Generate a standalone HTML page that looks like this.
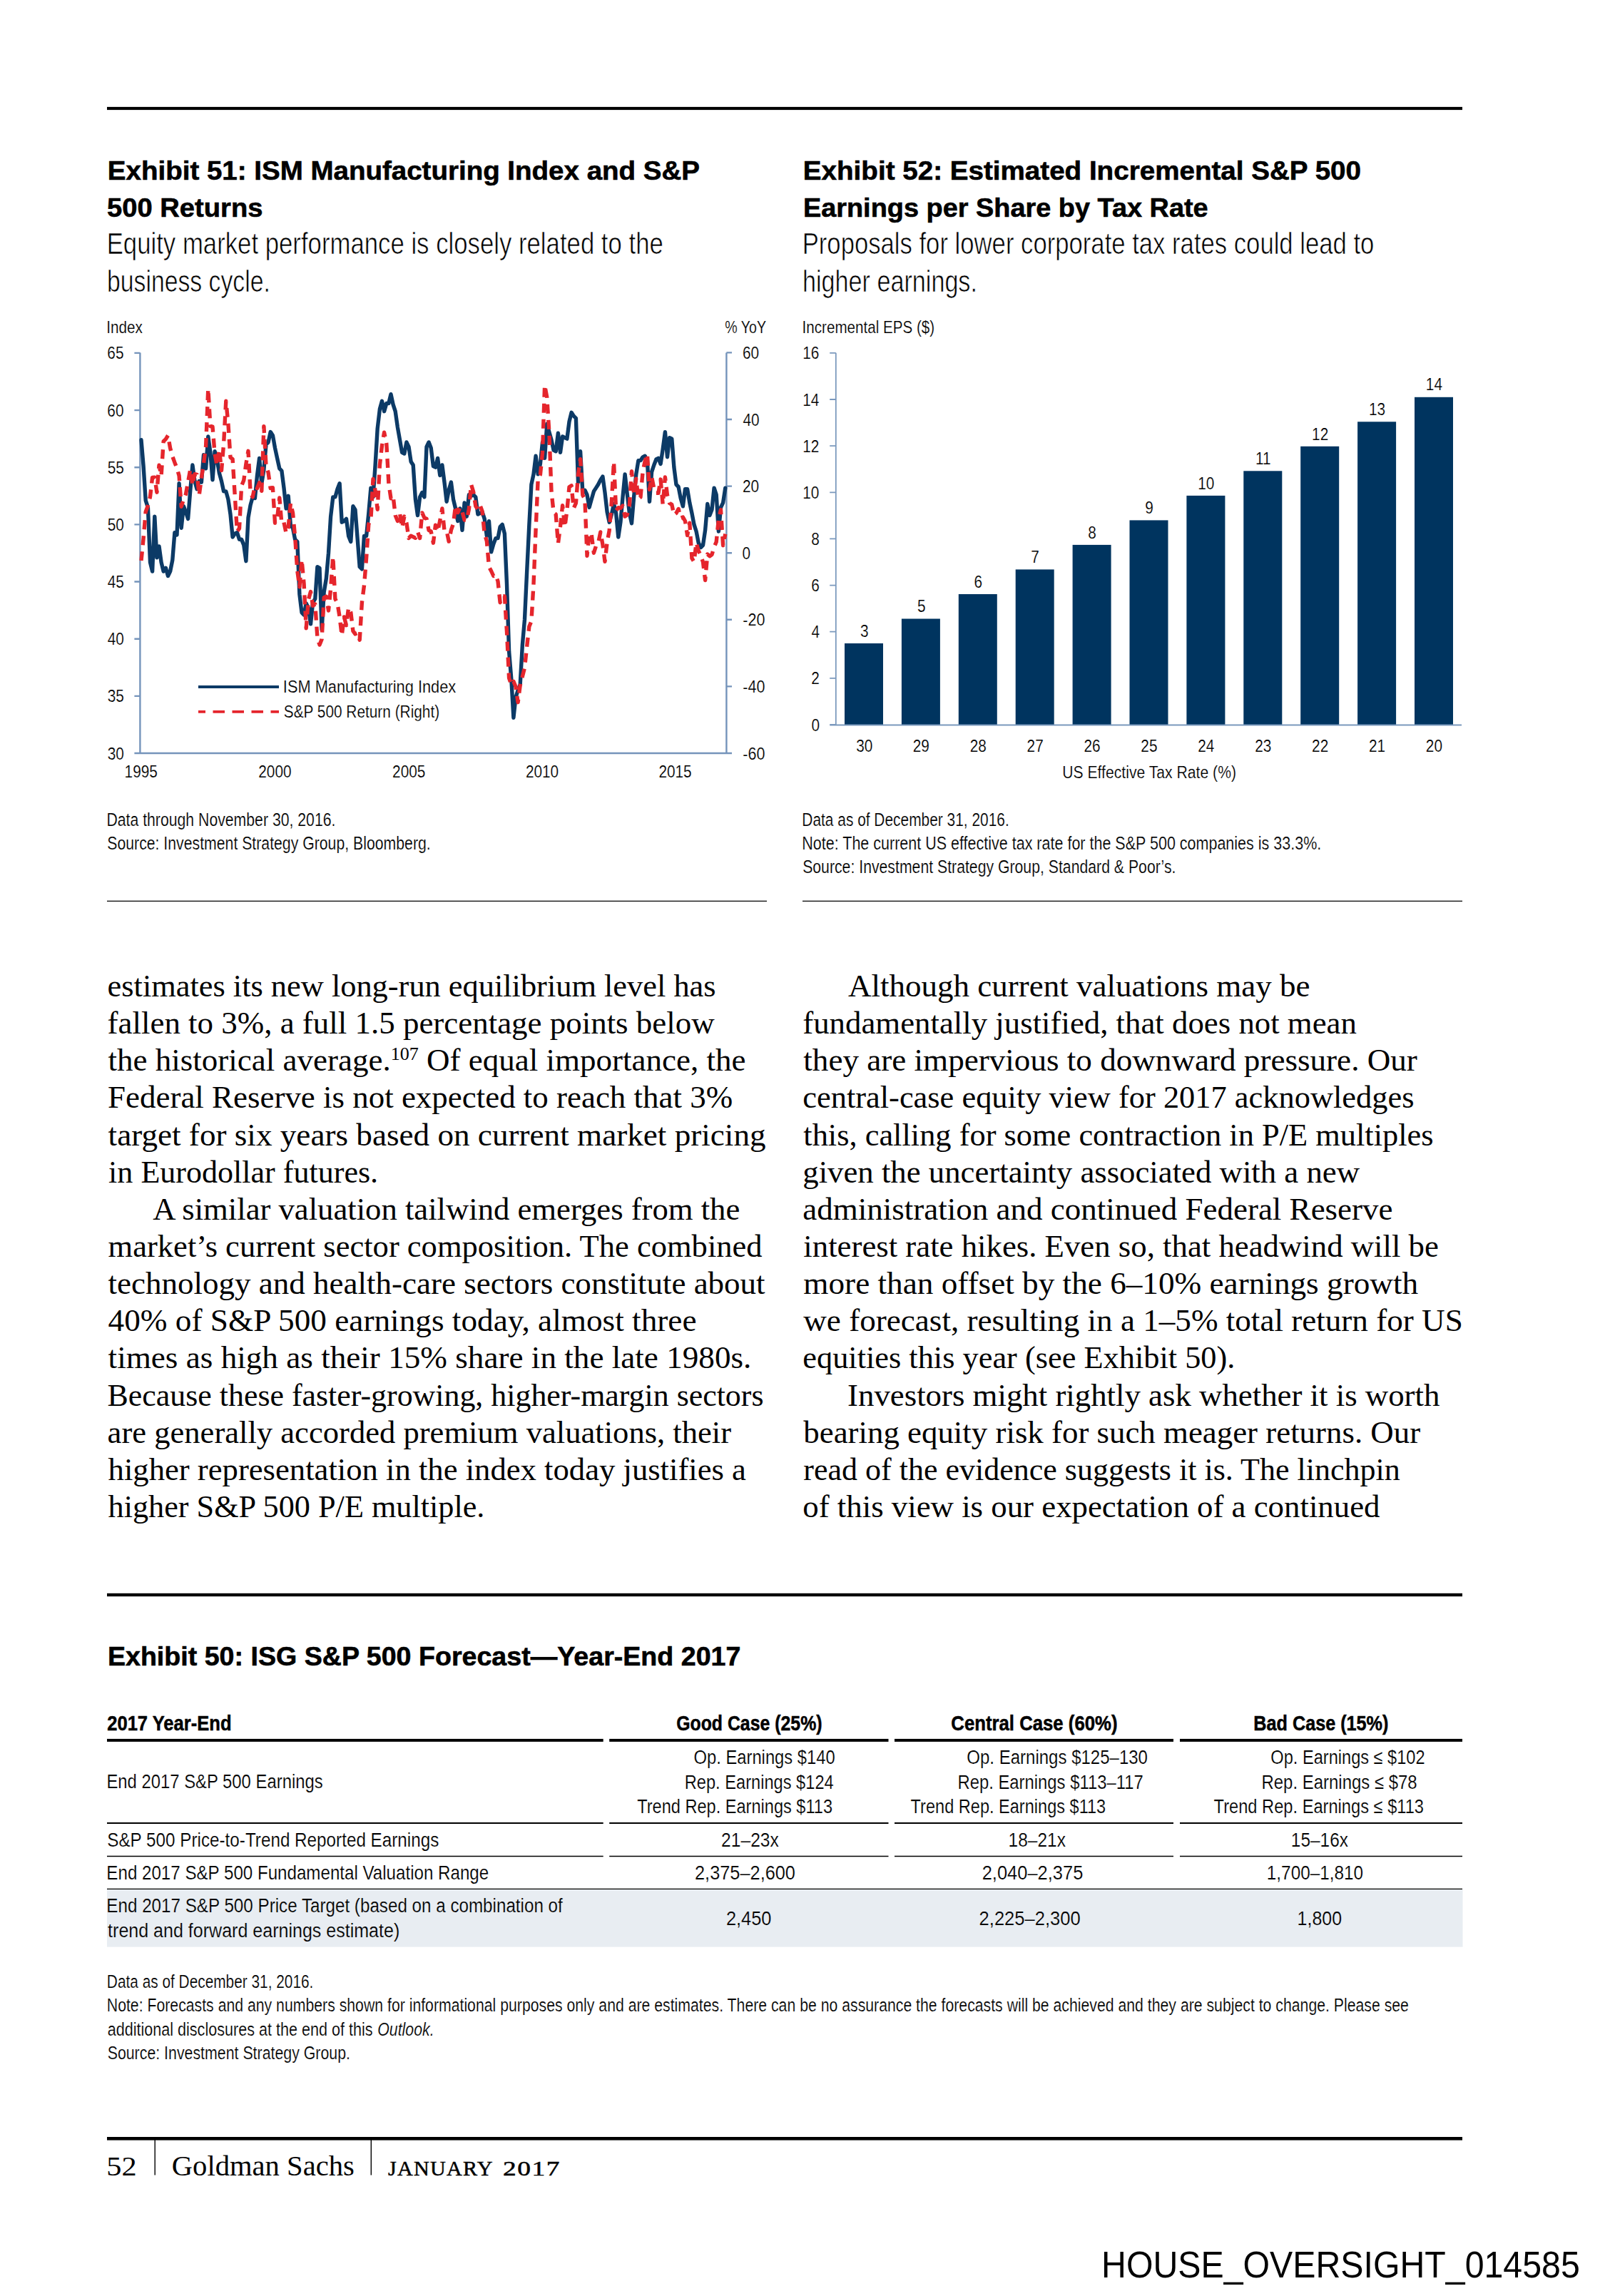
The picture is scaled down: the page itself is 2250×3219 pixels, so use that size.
<!DOCTYPE html>
<html lang="en"><head><meta charset="utf-8"><title>Outlook - page 52</title>
<style>
html,body{margin:0;padding:0;background:#fff}
svg{display:block}
text{white-space:pre}
.s,.sb,.si{font-family:"Liberation Sans", Arial, Helvetica, sans-serif}
.r{font-family:"Liberation Serif", "Times New Roman", Times, serif}
.sb{font-weight:bold}
.si{font-style:italic}
</style></head>
<body>
<svg width="2250" height="3219" viewBox="0 0 2250 3219">
<g fill="#000">
<rect x="150" y="149.9" width="1900" height="4.2"/>
<rect x="150" y="2233.8" width="1900" height="4.4"/>
<rect x="150" y="2996" width="1900" height="4.6"/>
<rect x="150" y="2437.9" width="695.7" height="4"/>
<rect x="854.2" y="2437.9" width="391.3" height="4"/>
<rect x="1254" y="2437.9" width="391.0" height="4"/>
<rect x="1654" y="2437.9" width="396.0" height="4"/>
</g>
<rect x="150" y="2649" width="1900.5" height="80.6" fill="#e8edf2"/>
<g stroke="#000" stroke-width="1.3" fill="none">
<path d="M150 1263.4H1075M1125 1263.4H2050"/>
<path d="M150 2602.5H845.7M854.2 2602.5H1245.5M1254 2602.5H1645M1654 2602.5H2050M150 2648.4H2050"/>
<path d="M150 2556H845.7M854.2 2556H1245.5M1254 2556H1645M1654 2556H2050" stroke-width="2"/>
<path d="M217.2 2998V3049.5M520.3 2998V3049.5" stroke-width="1.4"/>
</g>
<rect x="1184.0" y="902.0" width="54" height="114.0" fill="#00345f"/>
<rect x="1263.9" y="867.5" width="54" height="148.5" fill="#00345f"/>
<rect x="1343.8" y="833.0" width="54" height="183.0" fill="#00345f"/>
<rect x="1423.7" y="798.4" width="54" height="217.6" fill="#00345f"/>
<rect x="1503.6" y="763.9" width="54" height="252.1" fill="#00345f"/>
<rect x="1583.5" y="729.4" width="54" height="286.6" fill="#00345f"/>
<rect x="1663.4" y="694.9" width="54" height="321.1" fill="#00345f"/>
<rect x="1743.3" y="660.3" width="54" height="355.7" fill="#00345f"/>
<rect x="1823.2" y="625.8" width="54" height="390.2" fill="#00345f"/>
<rect x="1903.1" y="591.3" width="54" height="424.7" fill="#00345f"/>
<rect x="1983.0" y="556.8" width="54" height="459.2" fill="#00345f"/>
<path d="M1171.8 494.8V1016.5M1163.2 1016.5H2049M1163.2 1016.0H1171.8M1163.2 950.9H1171.8M1163.2 885.7H1171.8M1163.2 820.6H1171.8M1163.2 755.4H1171.8M1163.2 690.3H1171.8M1163.2 625.2H1171.8M1163.2 560.0H1171.8M1163.2 494.9H1171.8" stroke="#7b99bd" stroke-width="1.8" fill="none"/>
<g stroke="#7594bb" stroke-width="2.4" fill="none">
<path d="M196.4 494.5V1056M1018.4 494.5V1056M188.4 1056H1026"/>
<path d="M188.4 975.9H196.4M188.4 895.7H196.4M188.4 815.5H196.4M188.4 735.4H196.4M188.4 655.2H196.4M188.4 575.1H196.4M188.4 494.9H196.4M1018.4 962.4H1026M1018.4 868.8H1026M1018.4 775.2H1026M1018.4 681.6H1026M1018.4 588.0H1026M1018.4 494.4H1026"/></g>
<polyline points="198.0,616.8 201.1,653.6 204.2,701.7 207.4,711.4 210.5,788.3 213.6,801.1 216.8,724.2 219.9,781.9 223.0,765.9 226.1,788.3 229.2,801.1 232.4,796.3 235.5,807.5 238.6,801.1 241.8,785.1 244.9,746.6 248.0,749.8 251.1,677.7 254.2,740.2 257.4,709.8 260.5,717.8 263.6,727.4 266.8,687.3 269.9,652.0 273.0,674.5 276.1,685.7 279.2,674.5 282.4,676.1 285.5,637.6 288.6,656.9 291.8,612.0 294.9,634.4 298.0,672.9 301.1,632.8 304.2,644.0 307.4,663.3 310.5,674.5 313.6,688.9 316.8,688.9 319.9,700.1 323.0,721.0 326.1,753.0 329.2,748.2 332.4,746.6 335.5,756.2 338.6,756.2 341.8,764.3 344.9,786.7 348.0,725.8 351.1,708.1 354.2,696.9 357.4,698.5 360.5,666.5 363.6,642.4 366.8,677.7 369.9,658.5 373.0,623.2 376.1,620.0 379.2,605.6 382.4,610.4 385.5,628.0 388.6,642.4 391.8,656.9 394.9,660.1 398.0,684.1 401.1,713.0 404.2,695.3 407.4,737.0 410.5,740.2 413.6,756.2 416.8,759.4 419.9,833.2 423.0,858.8 426.1,862.0 429.2,846.0 432.4,852.4 435.5,874.9 438.6,844.4 441.8,839.6 444.9,794.7 448.0,796.3 451.1,882.9 454.2,830.0 457.4,810.7 460.5,775.5 463.6,724.2 466.8,696.9 469.9,696.9 473.0,685.7 476.1,677.7 479.2,732.2 482.4,730.6 485.5,727.4 488.6,751.4 491.8,759.4 494.9,709.8 498.0,714.6 501.1,754.6 504.2,794.7 507.4,797.9 510.5,751.4 513.6,751.4 516.8,719.4 519.9,684.1 523.0,696.9 526.1,652.0 529.2,600.7 532.4,573.5 535.5,562.3 538.6,576.7 541.8,565.5 544.9,565.5 548.0,552.7 551.1,567.1 554.2,576.7 557.4,599.1 560.5,616.8 563.6,634.4 566.8,636.0 569.9,620.0 573.0,626.4 576.1,647.2 579.2,652.0 582.4,700.1 585.5,722.6 588.6,696.9 591.8,690.5 594.9,696.9 598.0,626.4 601.1,620.0 604.2,628.0 607.4,653.6 610.5,655.2 613.6,642.4 616.8,666.5 619.9,652.0 623.0,676.1 626.1,703.3 629.2,687.3 632.4,676.1 635.5,700.1 638.6,713.0 641.8,730.6 644.9,713.0 648.0,743.4 651.1,704.9 654.2,724.2 657.4,693.7 660.5,695.3 663.6,693.7 666.8,696.9 669.9,721.0 673.0,719.4 676.1,717.8 679.2,727.4 682.4,751.4 685.5,730.6 688.6,773.9 691.8,762.7 694.9,754.6 698.0,754.6 701.1,738.6 704.2,735.4 707.4,748.2 710.5,818.8 713.6,913.3 716.8,951.8 719.9,1006.3 723.0,977.5 726.1,967.8 729.2,959.8 732.4,903.7 735.5,868.4 738.6,802.7 741.8,737.0 744.9,679.3 748.0,664.9 751.1,639.2 754.2,664.9 757.4,650.4 760.5,620.0 763.6,642.4 766.8,594.3 769.9,605.6 773.0,616.8 776.1,631.2 779.2,632.8 782.4,607.2 785.5,634.4 788.6,612.0 791.8,613.6 794.9,615.2 798.0,591.1 801.1,578.3 804.2,583.1 807.4,586.3 810.5,676.1 813.6,632.8 816.8,688.9 819.9,687.3 823.0,693.7 826.1,711.4 829.2,700.1 832.4,688.9 835.5,684.1 838.6,679.3 841.8,672.9 844.9,668.1 848.0,690.5 851.1,717.8 854.2,732.2 857.4,721.0 860.5,706.5 863.6,719.4 866.8,753.0 869.9,732.2 873.0,696.9 876.1,664.9 879.2,692.1 882.4,719.4 885.5,733.8 888.6,696.9 891.8,664.9 894.9,645.6 898.0,645.6 901.1,640.8 904.2,639.2 907.4,645.6 910.5,703.3 913.6,661.7 916.8,652.0 919.9,644.0 923.0,642.4 926.1,650.4 929.2,629.6 932.4,605.6 935.5,640.8 938.6,613.6 941.8,615.2 944.9,655.2 948.0,679.3 951.1,682.5 954.2,698.5 957.4,709.8 960.5,685.7 963.6,685.7 966.8,704.9 969.9,719.4 973.0,735.4 976.1,745.0 979.2,761.0 982.4,767.5 985.5,764.3 988.6,743.4 991.8,706.5 994.9,722.6 998.0,714.6 1001.1,684.1 1004.2,693.7 1007.4,745.0 1010.5,711.4 1013.6,704.9 1016.8,684.1" fill="none" stroke="#0c3a66" stroke-width="5.4" stroke-linejoin="round" stroke-linecap="round"/>
<polyline points="198.0,786.1 201.1,754.9 204.2,717.5 207.4,709.0 210.5,696.4 213.6,669.4 216.8,669.2 219.9,690.2 223.0,652.1 226.1,667.1 229.2,618.7 232.4,615.6 235.5,610.5 238.6,628.2 241.8,639.9 244.9,648.4 248.0,656.1 251.1,667.1 254.2,710.3 257.4,700.1 260.5,692.8 263.6,675.6 266.8,658.0 269.9,680.4 273.0,664.7 276.1,665.3 279.2,694.3 282.4,669.9 285.5,649.9 288.6,625.5 291.8,545.3 294.9,597.6 298.0,598.2 301.1,636.3 304.2,652.6 307.4,630.1 310.5,659.6 313.6,622.2 316.8,562.2 319.9,593.9 323.0,641.4 326.1,643.7 329.2,693.6 332.4,745.1 335.5,740.8 338.6,681.0 341.8,673.2 344.9,650.4 348.0,632.3 351.1,690.9 354.2,696.8 357.4,681.1 360.5,684.7 363.6,676.6 366.8,688.3 369.9,597.7 373.0,652.9 376.1,662.6 379.2,684.6 382.4,683.8 385.5,733.2 388.6,726.8 391.8,698.0 394.9,734.1 398.0,732.5 401.1,747.3 404.2,739.2 407.4,705.3 410.5,719.1 413.6,752.4 416.8,800.1 419.9,822.7 423.0,784.7 426.1,818.5 429.2,880.8 432.4,840.6 435.5,829.5 438.6,849.3 441.8,847.0 444.9,893.6 448.0,904.1 451.1,896.2 454.2,837.7 457.4,836.2 460.5,856.0 463.6,825.5 466.8,780.4 469.9,839.8 473.0,845.5 476.1,864.9 479.2,891.0 482.4,865.0 485.5,876.7 488.6,852.0 491.8,858.6 494.9,884.6 498.0,888.9 501.1,887.5 504.2,897.2 507.4,844.7 510.5,820.6 513.6,782.4 516.8,734.8 519.9,728.2 523.0,671.5 526.1,688.0 529.2,714.3 532.4,651.7 535.5,624.6 538.6,606.2 541.8,621.8 544.9,678.0 548.0,698.9 551.1,695.3 554.2,722.5 557.4,730.5 560.5,719.5 563.6,739.8 566.8,724.1 569.9,733.1 573.0,754.5 576.1,751.2 579.2,752.6 582.4,754.3 585.5,745.6 588.6,754.5 591.8,718.9 594.9,726.0 598.0,727.2 601.1,743.4 604.2,745.0 607.4,761.2 610.5,736.1 613.6,745.2 616.8,729.9 619.9,713.0 623.0,744.3 626.1,744.2 629.2,759.1 632.4,743.2 635.5,734.4 638.6,708.9 641.8,718.6 644.9,711.5 648.0,717.4 651.1,729.1 654.2,729.7 657.4,713.9 660.5,679.2 663.6,689.3 666.8,709.7 669.9,714.1 673.0,708.3 676.1,717.0 679.2,748.3 682.4,758.7 685.5,794.6 688.6,800.5 691.8,807.5 694.9,805.8 698.0,815.0 701.1,844.7 704.2,835.6 707.4,835.9 710.5,885.7 713.6,950.6 716.8,960.0 719.9,955.3 723.0,962.8 726.1,984.7 729.2,960.9 732.4,948.4 735.5,936.0 738.6,907.1 741.8,878.6 744.9,870.9 748.0,819.0 751.1,742.6 754.2,671.1 757.4,665.4 760.5,634.7 763.6,540.0 766.8,557.3 769.9,606.9 773.0,688.5 776.1,718.5 779.2,721.1 782.4,762.0 785.5,738.0 788.6,708.8 791.8,738.9 794.9,715.4 798.0,682.7 801.1,680.8 804.2,712.6 807.4,705.4 810.5,665.3 813.6,643.6 816.8,694.2 819.9,699.6 823.0,779.2 826.1,747.5 829.2,748.9 832.4,775.2 835.5,765.6 838.6,761.6 841.8,746.0 844.9,763.4 848.0,787.3 851.1,760.5 854.2,743.7 857.4,703.1 860.5,647.3 863.6,715.9 866.8,711.7 869.9,712.5 873.0,709.0 876.1,724.1 879.2,721.8 882.4,708.4 885.5,660.8 888.6,691.3 891.8,671.2 894.9,699.9 898.0,697.0 901.1,661.1 904.2,646.4 907.4,636.7 910.5,686.3 913.6,668.7 916.8,684.8 919.9,691.3 923.0,691.2 926.1,672.1 929.2,707.2 932.4,669.0 935.5,694.3 938.6,705.5 941.8,707.4 944.9,721.9 948.0,719.4 951.1,713.5 954.2,726.3 957.4,725.1 960.5,730.5 963.6,750.6 966.8,733.2 969.9,782.5 973.0,787.6 976.1,761.0 979.2,772.3 982.4,778.6 985.5,788.0 988.6,813.5 991.8,777.0 994.9,779.7 998.0,777.5 1001.1,767.1 1004.2,759.7 1007.4,728.0 1010.5,714.7 1013.6,764.7 1016.8,748.6" fill="none" stroke="#e5252c" stroke-width="5.4" stroke-linejoin="round" stroke-dasharray="13 9"/>
<path d="M278 963H391" stroke="#0c3a66" stroke-width="4" fill="none"/>
<path d="M278 997.8H391" stroke="#e5252c" stroke-width="3.8" stroke-dasharray="16.5 10.5" stroke-dashoffset="6.5" fill="none"/>
<text class="sb" transform="translate(150.85 252.00) scale(1.0272 1)" font-size="37.5" stroke="#000" stroke-width="0.6">Exhibit 51: ISM Manufacturing Index and S&amp;P</text>
<text class="sb" transform="translate(150.08 303.90) scale(1.0173 1)" font-size="37.5" stroke="#000" stroke-width="0.6">500 Returns</text>
<text class="sb" transform="translate(1125.84 252.00) scale(1.0294 1)" font-size="37.5" stroke="#000" stroke-width="0.6">Exhibit 52: Estimated Incremental S&amp;P 500</text>
<text class="sb" transform="translate(1125.88 303.90) scale(1.0106 1)" font-size="37.5" stroke="#000" stroke-width="0.6">Earnings per Share by Tax Rate</text>
<text class="sb" transform="translate(150.89 2334.90) scale(1.0029 1)" font-size="37.5" stroke="#000" stroke-width="0.6">Exhibit 50: ISG S&amp;P 500 Forecast—Year-End 2017</text>
<text class="s" transform="translate(149.68 356.10) scale(0.8083 1)" font-size="43" stroke="#fff" stroke-width="0.7">Equity market performance is closely related to the</text>
<text class="s" transform="translate(150.03 408.60) scale(0.7850 1)" font-size="43" stroke="#fff" stroke-width="0.7">business cycle.</text>
<text class="s" transform="translate(1124.68 356.10) scale(0.8067 1)" font-size="43" stroke="#fff" stroke-width="0.7">Proposals for lower corporate tax rates could lead to</text>
<text class="s" transform="translate(1125.01 408.60) scale(0.7943 1)" font-size="43" stroke="#fff" stroke-width="0.7">higher earnings.</text>
<text class="s" transform="translate(149.21 467.20) scale(0.8443 1)" font-size="24.5" stroke="#fff" stroke-width="0.2">Index</text>
<text class="s" transform="translate(1016.30 467.20) scale(0.8007 1)" font-size="24.5" stroke="#fff" stroke-width="0.2">% YoY</text>
<text class="s" transform="translate(150.78 1064.50) scale(0.8500 1)" font-size="24.5" stroke="#fff" stroke-width="0.2">30</text>
<text class="s" transform="translate(150.78 984.35) scale(0.8500 1)" font-size="24.5" stroke="#fff" stroke-width="0.2">35</text>
<text class="s" transform="translate(150.78 904.20) scale(0.8500 1)" font-size="24.5" stroke="#fff" stroke-width="0.2">40</text>
<text class="s" transform="translate(150.78 824.05) scale(0.8500 1)" font-size="24.5" stroke="#fff" stroke-width="0.2">45</text>
<text class="s" transform="translate(150.78 743.90) scale(0.8500 1)" font-size="24.5" stroke="#fff" stroke-width="0.2">50</text>
<text class="s" transform="translate(150.78 663.75) scale(0.8500 1)" font-size="24.5" stroke="#fff" stroke-width="0.2">55</text>
<text class="s" transform="translate(150.36 583.60) scale(0.8500 1)" font-size="24.5" stroke="#fff" stroke-width="0.2">60</text>
<text class="s" transform="translate(150.36 503.45) scale(0.8500 1)" font-size="24.5" stroke="#fff" stroke-width="0.2">65</text>
<text class="s" transform="translate(1040.96 502.90) scale(0.8500 1)" font-size="24.5" stroke="#fff" stroke-width="0.2">60</text>
<text class="s" transform="translate(1041.38 596.50) scale(0.8500 1)" font-size="24.5" stroke="#fff" stroke-width="0.2">40</text>
<text class="s" transform="translate(1040.96 690.10) scale(0.8500 1)" font-size="24.5" stroke="#fff" stroke-width="0.2">20</text>
<text class="s" transform="translate(1040.57 783.70) scale(0.8500 1)" font-size="24.5" stroke="#fff" stroke-width="0.2">0</text>
<text class="s" transform="translate(1041.25 877.30) scale(0.8800 1)" font-size="24.5" stroke="#fff" stroke-width="0.2">-20</text>
<text class="s" transform="translate(1041.25 970.90) scale(0.8800 1)" font-size="24.5" stroke="#fff" stroke-width="0.2">-40</text>
<text class="s" transform="translate(1041.25 1064.50) scale(0.8800 1)" font-size="24.5" stroke="#fff" stroke-width="0.2">-60</text>
<text class="s" transform="translate(174.58 1089.70) scale(0.8500 1)" font-size="24.5" stroke="#fff" stroke-width="0.2">1995</text>
<text class="s" transform="translate(362.28 1089.70) scale(0.8500 1)" font-size="24.5" stroke="#fff" stroke-width="0.2">2000</text>
<text class="s" transform="translate(550.08 1089.70) scale(0.8500 1)" font-size="24.5" stroke="#fff" stroke-width="0.2">2005</text>
<text class="s" transform="translate(736.88 1089.70) scale(0.8500 1)" font-size="24.5" stroke="#fff" stroke-width="0.2">2010</text>
<text class="s" transform="translate(923.38 1089.70) scale(0.8500 1)" font-size="24.5" stroke="#fff" stroke-width="0.2">2015</text>
<text class="s" transform="translate(396.82 971.20) scale(0.8904 1)" font-size="24.5" stroke="#fff" stroke-width="0.2">ISM Manufacturing Index</text>
<text class="s" transform="translate(397.75 1006.20) scale(0.8503 1)" font-size="24.5" stroke="#fff" stroke-width="0.2">S&amp;P 500 Return (Right)</text>
<text class="s" transform="translate(1124.62 466.90) scale(0.8412 1)" font-size="24.5" stroke="#fff" stroke-width="0.2">Incremental EPS ($)</text>
<text class="s" transform="translate(1125.26 698.80) scale(0.8500 1)" font-size="24.5" stroke="#fff" stroke-width="0.2">10</text>
<text class="s" transform="translate(1125.26 633.66) scale(0.8500 1)" font-size="24.5" stroke="#fff" stroke-width="0.2">12</text>
<text class="s" transform="translate(1125.26 568.52) scale(0.8500 1)" font-size="24.5" stroke="#fff" stroke-width="0.2">14</text>
<text class="s" transform="translate(1125.26 503.38) scale(0.8500 1)" font-size="24.5" stroke="#fff" stroke-width="0.2">16</text>
<text class="s" transform="translate(1137.57 1024.50) scale(0.8500 1)" font-size="24.5" stroke="#fff" stroke-width="0.2">0</text>
<text class="s" transform="translate(1137.15 959.36) scale(0.8500 1)" font-size="24.5" stroke="#fff" stroke-width="0.2">2</text>
<text class="s" transform="translate(1137.57 894.22) scale(0.8500 1)" font-size="24.5" stroke="#fff" stroke-width="0.2">4</text>
<text class="s" transform="translate(1137.15 829.08) scale(0.8500 1)" font-size="24.5" stroke="#fff" stroke-width="0.2">6</text>
<text class="s" transform="translate(1137.15 763.94) scale(0.8500 1)" font-size="24.5" stroke="#fff" stroke-width="0.2">8</text>
<text class="s" transform="translate(1206.07 892.71) scale(0.8500 1)" font-size="24.5" stroke="#fff" stroke-width="0.2">3</text>
<text class="s" transform="translate(1200.28 1054.40) scale(0.8500 1)" font-size="24.5" stroke="#fff" stroke-width="0.2">30</text>
<text class="s" transform="translate(1285.97 858.18) scale(0.8500 1)" font-size="24.5" stroke="#fff" stroke-width="0.2">5</text>
<text class="s" transform="translate(1279.76 1054.40) scale(0.8500 1)" font-size="24.5" stroke="#fff" stroke-width="0.2">29</text>
<text class="s" transform="translate(1365.45 823.66) scale(0.8500 1)" font-size="24.5" stroke="#fff" stroke-width="0.2">6</text>
<text class="s" transform="translate(1359.66 1054.40) scale(0.8500 1)" font-size="24.5" stroke="#fff" stroke-width="0.2">28</text>
<text class="s" transform="translate(1445.35 789.13) scale(0.8500 1)" font-size="24.5" stroke="#fff" stroke-width="0.2">7</text>
<text class="s" transform="translate(1439.56 1054.40) scale(0.8500 1)" font-size="24.5" stroke="#fff" stroke-width="0.2">27</text>
<text class="s" transform="translate(1525.25 754.61) scale(0.8500 1)" font-size="24.5" stroke="#fff" stroke-width="0.2">8</text>
<text class="s" transform="translate(1519.46 1054.40) scale(0.8500 1)" font-size="24.5" stroke="#fff" stroke-width="0.2">26</text>
<text class="s" transform="translate(1605.15 720.08) scale(0.8500 1)" font-size="24.5" stroke="#fff" stroke-width="0.2">9</text>
<text class="s" transform="translate(1599.36 1054.40) scale(0.8500 1)" font-size="24.5" stroke="#fff" stroke-width="0.2">25</text>
<text class="s" transform="translate(1679.26 685.56) scale(0.8500 1)" font-size="24.5" stroke="#fff" stroke-width="0.2">10</text>
<text class="s" transform="translate(1679.26 1054.40) scale(0.8500 1)" font-size="24.5" stroke="#fff" stroke-width="0.2">24</text>
<text class="s" transform="translate(1759.93 651.04) scale(0.8500 1)" font-size="24.5" stroke="#fff" stroke-width="0.2">11</text>
<text class="s" transform="translate(1759.16 1054.40) scale(0.8500 1)" font-size="24.5" stroke="#fff" stroke-width="0.2">23</text>
<text class="s" transform="translate(1839.06 616.51) scale(0.8500 1)" font-size="24.5" stroke="#fff" stroke-width="0.2">12</text>
<text class="s" transform="translate(1839.06 1054.40) scale(0.8500 1)" font-size="24.5" stroke="#fff" stroke-width="0.2">22</text>
<text class="s" transform="translate(1918.96 581.99) scale(0.8500 1)" font-size="24.5" stroke="#fff" stroke-width="0.2">13</text>
<text class="s" transform="translate(1918.96 1054.40) scale(0.8500 1)" font-size="24.5" stroke="#fff" stroke-width="0.2">21</text>
<text class="s" transform="translate(1998.86 547.46) scale(0.8500 1)" font-size="24.5" stroke="#fff" stroke-width="0.2">14</text>
<text class="s" transform="translate(1998.86 1054.40) scale(0.8500 1)" font-size="24.5" stroke="#fff" stroke-width="0.2">20</text>
<text class="s" transform="translate(1489.24 1091.00) scale(0.8642 1)" font-size="24.5" stroke="#fff" stroke-width="0.2">US Effective Tax Rate (%)</text>
<text class="s" transform="translate(149.40 1158.00) scale(0.8496 1)" font-size="25" stroke="#fff" stroke-width="0.2">Data through November 30, 2016.</text>
<text class="s" transform="translate(150.25 1190.90) scale(0.8505 1)" font-size="25" stroke="#fff" stroke-width="0.2">Source: Investment Strategy Group, Bloomberg.</text>
<text class="s" transform="translate(1124.33 1158.00) scale(0.8362 1)" font-size="25" stroke="#fff" stroke-width="0.2">Data as of December 31, 2016.</text>
<text class="s" transform="translate(1124.28 1190.90) scale(0.8605 1)" font-size="25" stroke="#fff" stroke-width="0.2">Note: The current US effective tax rate for the S&amp;P 500 companies is 33.3%.</text>
<text class="s" transform="translate(1125.15 1223.70) scale(0.8498 1)" font-size="25" stroke="#fff" stroke-width="0.2">Source: Investment Strategy Group, Standard &amp; Poor’s.</text>
<text class="s" transform="translate(149.83 2786.90) scale(0.8341 1)" font-size="25" stroke="#fff" stroke-width="0.2">Data as of December 31, 2016.</text>
<text class="s" transform="translate(149.80 2820.20) scale(0.8503 1)" font-size="25" stroke="#fff" stroke-width="0.2">Note: Forecasts and any numbers shown for informational purposes only and are estimates. There can be no assurance the forecasts will be achieved and they are subject to change. Please see</text>
<text class="s" transform="translate(150.64 2853.80) scale(0.8637 1)" font-size="25" stroke="#fff" stroke-width="0.2">additional disclosures at the end of this</text>
<text class="si" transform="translate(529.25 2853.80) scale(0.8524 1)" font-size="25" stroke="#fff" stroke-width="0.2">Outlook.</text>
<text class="s" transform="translate(150.65 2887.20) scale(0.8538 1)" font-size="25" stroke="#fff" stroke-width="0.2">Source: Investment Strategy Group.</text>
<text class="r" transform="translate(150.59 1397.00) scale(1.0089 1)" font-size="44">estimates its new long-run equilibrium level has</text>
<text class="r" transform="translate(150.58 1449.14) scale(1.0215 1)" font-size="44">fallen to 3%, a full 1.5 percentage points below</text>
<text class="r" transform="translate(151.08 1553.42) scale(1.0216 1)" font-size="44">Federal Reserve is not expected to reach that 3%</text>
<text class="r" transform="translate(151.60 1605.56) scale(1.0263 1)" font-size="44">target for six years based on current market pricing</text>
<text class="r" transform="translate(152.10 1657.70) scale(1.0017 1)" font-size="44">in Eurodollar futures.</text>
<text class="r" transform="translate(214.30 1709.84) scale(1.0158 1)" font-size="44">A similar valuation tailwind emerges from the</text>
<text class="r" transform="translate(151.60 1761.98) scale(1.0126 1)" font-size="44">market’s current sector composition. The combined</text>
<text class="r" transform="translate(151.60 1814.12) scale(1.0231 1)" font-size="44">technology and health-care sectors constitute about</text>
<text class="r" transform="translate(151.60 1866.26) scale(1.0288 1)" font-size="44">40% of S&amp;P 500 earnings today, almost three</text>
<text class="r" transform="translate(151.60 1918.40) scale(1.0267 1)" font-size="44">times as high as their 15% share in the late 1980s.</text>
<text class="r" transform="translate(150.60 1970.54) scale(0.9976 1)" font-size="44">Because these faster-growing, higher-margin sectors</text>
<text class="r" transform="translate(150.59 2022.68) scale(1.0144 1)" font-size="44">are generally accorded premium valuations, their</text>
<text class="r" transform="translate(151.60 2074.82) scale(1.0154 1)" font-size="44">higher representation in the index today justifies a</text>
<text class="r" transform="translate(151.60 2126.96) scale(1.0050 1)" font-size="44">higher S&amp;P 500 P/E multiple.</text>
<text class="r" transform="translate(1189.10 1397.00) scale(1.0229 1)" font-size="44">Although current valuations may be</text>
<text class="r" transform="translate(1125.28 1449.14) scale(1.0187 1)" font-size="44">fundamentally justified, that does not mean</text>
<text class="r" transform="translate(1126.30 1501.28) scale(1.0256 1)" font-size="44">they are impervious to downward pressure. Our</text>
<text class="r" transform="translate(1125.29 1553.42) scale(1.0098 1)" font-size="44">central-case equity view for 2017 acknowledges</text>
<text class="r" transform="translate(1126.30 1605.56) scale(1.0097 1)" font-size="44">this, calling for some contraction in P/E multiples</text>
<text class="r" transform="translate(1125.28 1657.70) scale(1.0180 1)" font-size="44">given the uncertainty associated with a new</text>
<text class="r" transform="translate(1125.28 1709.84) scale(1.0229 1)" font-size="44">administration and continued Federal Reserve</text>
<text class="r" transform="translate(1126.30 1761.98) scale(1.0183 1)" font-size="44">interest rate hikes. Even so, that headwind will be</text>
<text class="r" transform="translate(1126.30 1814.12) scale(1.0277 1)" font-size="44">more than offset by the 6–10% earnings growth</text>
<text class="r" transform="translate(1126.30 1866.26) scale(1.0256 1)" font-size="44">we forecast, resulting in a 1–5% total return for US</text>
<text class="r" transform="translate(1125.29 1918.40) scale(1.0086 1)" font-size="44">equities this year (see Exhibit 50).</text>
<text class="r" transform="translate(1188.08 1970.54) scale(1.0189 1)" font-size="44">Investors might rightly ask whether it is worth</text>
<text class="r" transform="translate(1126.30 2022.68) scale(1.0200 1)" font-size="44">bearing equity risk for such meager returns. Our</text>
<text class="r" transform="translate(1126.30 2074.82) scale(1.0004 1)" font-size="44">read of the evidence suggests it is. The linchpin</text>
<text class="r" transform="translate(1125.28 2126.96) scale(1.0194 1)" font-size="44">of this view is our expectation of a continued</text>
<text class="sb" transform="translate(150.22 2426.40) scale(0.8820 1)" font-size="29" stroke="#000" stroke-width="0.5">2017 Year-End</text>
<text class="sb" transform="translate(948.14 2426.40) scale(0.8571 1)" font-size="29" stroke="#000" stroke-width="0.5">Good Case (25%)</text>
<text class="sb" transform="translate(1333.31 2426.40) scale(0.8883 1)" font-size="29" stroke="#000" stroke-width="0.5">Central Case (60%)</text>
<text class="sb" transform="translate(1757.33 2426.40) scale(0.8697 1)" font-size="29" stroke="#000" stroke-width="0.5">Bad Case (15%)</text>
<text class="s" transform="translate(149.40 2507.20) scale(0.8524 1)" font-size="28" stroke="#fff" stroke-width="0.2">End 2017 S&amp;P 500 Earnings</text>
<text class="s" transform="translate(972.45 2472.70) scale(0.8494 1)" font-size="28" stroke="#fff" stroke-width="0.2">Op. Earnings $140</text>
<text class="s" transform="translate(1355.34 2472.70) scale(0.8576 1)" font-size="28" stroke="#fff" stroke-width="0.2">Op. Earnings $125–130</text>
<text class="s" transform="translate(1781.36 2472.70) scale(0.8433 1)" font-size="28" stroke="#fff" stroke-width="0.2">Op. Earnings ≤ $102</text>
<text class="s" transform="translate(959.71 2507.50) scale(0.8447 1)" font-size="28" stroke="#fff" stroke-width="0.2">Rep. Earnings $124</text>
<text class="s" transform="translate(1342.50 2507.50) scale(0.8513 1)" font-size="28" stroke="#fff" stroke-width="0.2">Rep. Earnings $113–117</text>
<text class="s" transform="translate(1768.49 2507.50) scale(0.8558 1)" font-size="28" stroke="#fff" stroke-width="0.2">Rep. Earnings ≤ $78</text>
<text class="s" transform="translate(893.20 2542.40) scale(0.8419 1)" font-size="28" stroke="#fff" stroke-width="0.2">Trend Rep. Earnings $113</text>
<text class="s" transform="translate(1276.60 2542.40) scale(0.8416 1)" font-size="28" stroke="#fff" stroke-width="0.2">Trend Rep. Earnings $113</text>
<text class="s" transform="translate(1701.60 2542.40) scale(0.8457 1)" font-size="28" stroke="#fff" stroke-width="0.2">Trend Rep. Earnings ≤ $113</text>
<text class="s" transform="translate(150.23 2588.80) scale(0.8666 1)" font-size="28" stroke="#fff" stroke-width="0.2">S&amp;P 500 Price-to-Trend Reported Earnings</text>
<text class="s" transform="translate(1011.12 2589.00) scale(0.8783 1)" font-size="28" stroke="#fff" stroke-width="0.2">21–23x</text>
<text class="s" transform="translate(1413.55 2589.00) scale(0.8747 1)" font-size="28" stroke="#fff" stroke-width="0.2">18–21x</text>
<text class="s" transform="translate(1809.86 2589.00) scale(0.8725 1)" font-size="28" stroke="#fff" stroke-width="0.2">15–16x</text>
<text class="s" transform="translate(149.37 2634.80) scale(0.8627 1)" font-size="28" stroke="#fff" stroke-width="0.2">End 2017 S&amp;P 500 Fundamental Valuation Range</text>
<text class="s" transform="translate(973.99 2634.70) scale(0.9057 1)" font-size="28" stroke="#fff" stroke-width="0.2">2,375–2,600</text>
<text class="s" transform="translate(1376.69 2634.70) scale(0.9102 1)" font-size="28" stroke="#fff" stroke-width="0.2">2,040–2,375</text>
<text class="s" transform="translate(1775.86 2634.70) scale(0.8679 1)" font-size="28" stroke="#fff" stroke-width="0.2">1,700–1,810</text>
<text class="s" transform="translate(149.37 2681.20) scale(0.8648 1)" font-size="28" stroke="#e8edf2" stroke-width="0.2">End 2017 S&amp;P 500 Price Target (based on a combination of</text>
<text class="s" transform="translate(151.10 2715.80) scale(0.8949 1)" font-size="28" stroke="#e8edf2" stroke-width="0.2">trend and forward earnings estimate)</text>
<text class="s" transform="translate(1017.89 2699.20) scale(0.9081 1)" font-size="28" stroke="#e8edf2" stroke-width="0.2">2,450</text>
<text class="s" transform="translate(1372.59 2699.20) scale(0.9135 1)" font-size="28" stroke="#e8edf2" stroke-width="0.2">2,225–2,300</text>
<text class="s" transform="translate(1818.62 2699.20) scale(0.8919 1)" font-size="28" stroke="#e8edf2" stroke-width="0.2">1,800</text>
<text class="r" transform="translate(149.37 3049.60) scale(1.1147 1)" font-size="38">52</text>
<text class="r" transform="translate(240.80 3049.60) scale(1.0028 1)" font-size="40.5">Goldman Sachs</text>
<text class="r" transform="translate(544.00 3049.60) scale(1.0195 1)" font-size="29.6" letter-spacing="1.2" stroke="#000" stroke-width="0.5">JANUARY</text>
<text class="r" transform="translate(705.03 3049.60) scale(1.2658 1)" font-size="29.6" letter-spacing="1.2" stroke="#000" stroke-width="0.5">2017</text>
<text class="s" transform="translate(1544.05 3193.20) scale(0.9374 1)" font-size="51.5">HOUSE_OVERSIGHT_014585</text>
<text class="r" transform="translate(151.60 1501.28) scale(1.0229 1)" font-size="44">the historical average.<tspan font-size="25.5" dy="-15">107</tspan><tspan dy="15"> Of equal importance, the</tspan></text>
</svg>
</body></html>
